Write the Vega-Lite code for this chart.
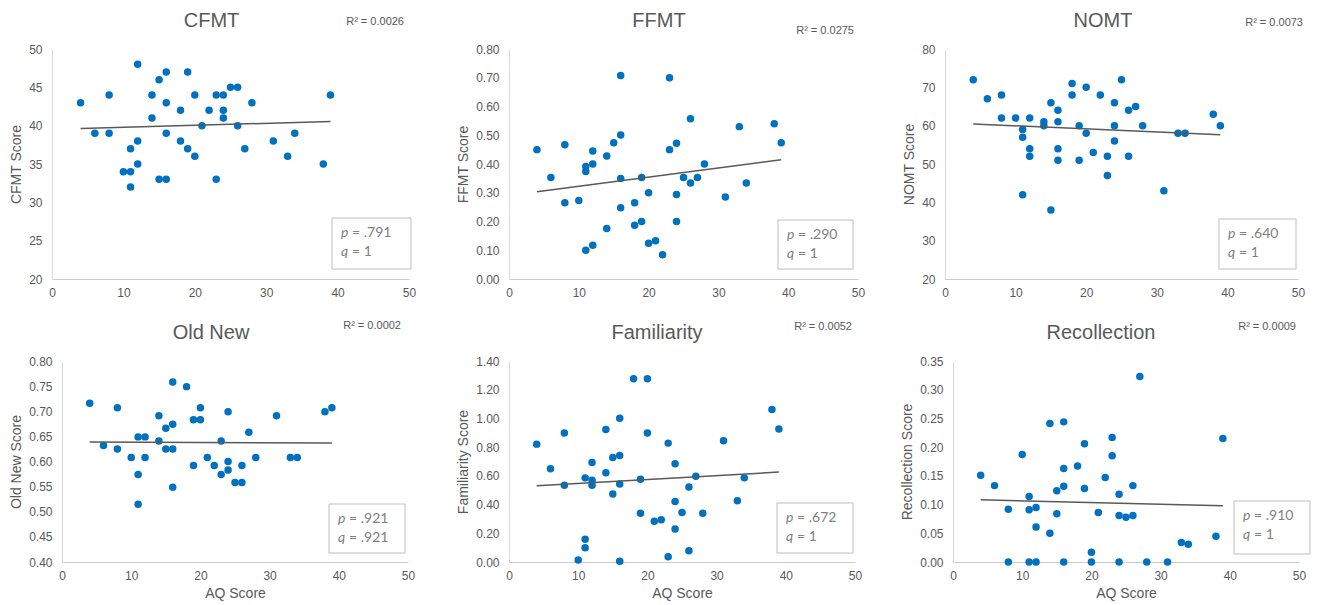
{
"$schema": "https://vega.github.io/schema/vega-lite/v6.json",
"padding": {"left": 9, "top": 11, "right": 5, "bottom": 3},
"background": "white",
"config": {
  "view": {"stroke": null},
  "font": "Liberation Sans",
  "axis": {"grid": false, "ticks": false, "tickSize": 0, "labelFont": "Liberation Sans", "labelFontSize": 12, "labelColor": "#595959", "titleFont": "Liberation Sans", "titleFontSize": 14, "titleColor": "#595959", "titleFontWeight": "normal", "domainColor": "#d9d9d9", "labelFlush": false, "labelOverlap": false},
  "axisY": {"titlePadding": 5, "labelPadding": 10},
  "axisX": {"titlePadding": 5, "labelPadding": 8, "domainColor": "#cccccc"}
},
"datasets": {
  "stats": [
    {"test": "CFMT", "r2": "R² = 0.0026", "pl": "p", "pv": "= .791", "ql": "q", "qv": "= 1"},
    {"test": "FFMT", "r2": "R² = 0.0275", "pl": "p", "pv": "= .290", "ql": "q", "qv": "= 1"},
    {"test": "NOMT", "r2": "R² = 0.0073", "pl": "p", "pv": "= .640", "ql": "q", "qv": "= 1"},
    {"test": "Old New", "r2": "R² = 0.0002", "pl": "p", "pv": "= .921", "ql": "q", "qv": "= .921"},
    {"test": "Familiarity", "r2": "R² = 0.0052", "pl": "p", "pv": "= .672", "ql": "q", "qv": "= 1"},
    {"test": "Recollection", "r2": "R² = 0.0009", "pl": "p", "pv": "= .910", "ql": "q", "qv": "= 1"}
  ],
  "CFMT": [
    {"aq":4,"score":43},{"aq":6,"score":39},{"aq":8,"score":44},{"aq":8,"score":39},{"aq":10,"score":34},{"aq":11,"score":34},{"aq":11,"score":37},{"aq":11,"score":32},{"aq":12,"score":48},{"aq":12,"score":38},{"aq":12,"score":35},{"aq":14,"score":44},{"aq":14,"score":41},{"aq":15,"score":46},{"aq":15,"score":33},{"aq":16,"score":47},{"aq":16,"score":43},{"aq":16,"score":39},{"aq":16,"score":33},{"aq":18,"score":42},{"aq":18,"score":38},{"aq":19,"score":47},{"aq":19,"score":37},{"aq":20,"score":44},{"aq":20,"score":36},{"aq":21,"score":40},{"aq":22,"score":42},{"aq":23,"score":44},{"aq":23,"score":33},{"aq":24,"score":44},{"aq":24,"score":42},{"aq":24,"score":41},{"aq":25,"score":45},{"aq":26,"score":45},{"aq":26,"score":40},{"aq":27,"score":37},{"aq":28,"score":43},{"aq":31,"score":38},{"aq":33,"score":36},{"aq":34,"score":39},{"aq":38,"score":35},{"aq":39,"score":44}
  ],
  "FFMT": [
    {"aq":4,"score":0.45},{"aq":6,"score":0.353},{"aq":8,"score":0.467},{"aq":8,"score":0.265},{"aq":10,"score":0.273},{"aq":11,"score":0.391},{"aq":11,"score":0.374},{"aq":11,"score":0.10},{"aq":12,"score":0.445},{"aq":12,"score":0.40},{"aq":12,"score":0.117},{"aq":14,"score":0.428},{"aq":14,"score":0.176},{"aq":15,"score":0.474},{"aq":16,"score":0.708},{"aq":16,"score":0.501},{"aq":16,"score":0.35},{"aq":16,"score":0.248},{"aq":18,"score":0.265},{"aq":18,"score":0.187},{"aq":19,"score":0.353},{"aq":19,"score":0.20},{"aq":20,"score":0.30},{"aq":20,"score":0.124},{"aq":21,"score":0.133},{"aq":22,"score":0.084},{"aq":23,"score":0.70},{"aq":23,"score":0.45},{"aq":24,"score":0.472},{"aq":24,"score":0.294},{"aq":24,"score":0.20},{"aq":25,"score":0.353},{"aq":26,"score":0.557},{"aq":26,"score":0.334},{"aq":27,"score":0.353},{"aq":28,"score":0.40},{"aq":31,"score":0.285},{"aq":33,"score":0.53},{"aq":34,"score":0.334},{"aq":38,"score":0.54},{"aq":39,"score":0.474}
  ],
  "NOMT": [
    {"aq":4,"score":72},{"aq":6,"score":67},{"aq":8,"score":68},{"aq":8,"score":62},{"aq":10,"score":62},{"aq":11,"score":59},{"aq":11,"score":57},{"aq":11,"score":42},{"aq":12,"score":62},{"aq":12,"score":54},{"aq":12,"score":52},{"aq":14,"score":61},{"aq":14,"score":60},{"aq":15,"score":66},{"aq":15,"score":38},{"aq":16,"score":64},{"aq":16,"score":61},{"aq":16,"score":54},{"aq":16,"score":51},{"aq":18,"score":71},{"aq":18,"score":68},{"aq":19,"score":60},{"aq":19,"score":51},{"aq":20,"score":70},{"aq":20,"score":58},{"aq":21,"score":53},{"aq":22,"score":68},{"aq":23,"score":52},{"aq":23,"score":47},{"aq":24,"score":66},{"aq":24,"score":60},{"aq":24,"score":56},{"aq":25,"score":72},{"aq":26,"score":64},{"aq":26,"score":52},{"aq":27,"score":65},{"aq":28,"score":60},{"aq":31,"score":43},{"aq":33,"score":58},{"aq":34,"score":58},{"aq":38,"score":63},{"aq":39,"score":60}
  ],
  "OldNew": [
    {"aq":4,"score":0.716},{"aq":6,"score":0.632},{"aq":8,"score":0.707},{"aq":8,"score":0.625},{"aq":10,"score":0.608},{"aq":11,"score":0.649},{"aq":11,"score":0.574},{"aq":11,"score":0.515},{"aq":12,"score":0.649},{"aq":12,"score":0.608},{"aq":14,"score":0.691},{"aq":14,"score":0.641},{"aq":15,"score":0.666},{"aq":15,"score":0.625},{"aq":16,"score":0.758},{"aq":16,"score":0.674},{"aq":16,"score":0.625},{"aq":16,"score":0.549},{"aq":18,"score":0.749},{"aq":19,"score":0.683},{"aq":19,"score":0.592},{"aq":20,"score":0.707},{"aq":20,"score":0.683},{"aq":21,"score":0.608},{"aq":22,"score":0.592},{"aq":23,"score":0.641},{"aq":23,"score":0.574},{"aq":24,"score":0.699},{"aq":24,"score":0.60},{"aq":24,"score":0.583},{"aq":25,"score":0.558},{"aq":26,"score":0.592},{"aq":26,"score":0.558},{"aq":27,"score":0.658},{"aq":28,"score":0.608},{"aq":31,"score":0.691},{"aq":33,"score":0.608},{"aq":34,"score":0.608},{"aq":38,"score":0.699},{"aq":39,"score":0.707}
  ],
  "Familiarity": [
    {"aq":4,"score":0.821},{"aq":6,"score":0.649},{"aq":8,"score":0.898},{"aq":8,"score":0.535},{"aq":10,"score":0.014},{"aq":11,"score":0.586},{"aq":11,"score":0.158},{"aq":11,"score":0.10},{"aq":12,"score":0.693},{"aq":12,"score":0.570},{"aq":12,"score":0.535},{"aq":14,"score":0.923},{"aq":14,"score":0.621},{"aq":15,"score":0.728},{"aq":15,"score":0.474},{"aq":16,"score":1.002},{"aq":16,"score":0.742},{"aq":16,"score":0.544},{"aq":16,"score":0.005},{"aq":18,"score":1.277},{"aq":19,"score":0.577},{"aq":19,"score":0.340},{"aq":20,"score":1.277},{"aq":20,"score":0.898},{"aq":21,"score":0.284},{"aq":22,"score":0.295},{"aq":23,"score":0.828},{"aq":23,"score":0.037},{"aq":24,"score":0.684},{"aq":24,"score":0.421},{"aq":24,"score":0.230},{"aq":25,"score":0.344},{"aq":26,"score":0.523},{"aq":26,"score":0.079},{"aq":27,"score":0.598},{"aq":28,"score":0.340},{"aq":31,"score":0.844},{"aq":33,"score":0.426},{"aq":34,"score":0.586},{"aq":38,"score":1.063},{"aq":39,"score":0.926}
  ],
  "Recollection": [
    {"aq":4,"score":0.151},{"aq":6,"score":0.133},{"aq":8,"score":0.092},{"aq":8,"score":0},{"aq":10,"score":0.187},{"aq":11,"score":0.114},{"aq":11,"score":0.091},{"aq":11,"score":0},{"aq":12,"score":0.095},{"aq":12,"score":0.061},{"aq":12,"score":0},{"aq":14,"score":0.241},{"aq":14,"score":0.050},{"aq":15,"score":0.124},{"aq":15,"score":0.084},{"aq":16,"score":0.244},{"aq":16,"score":0.163},{"aq":16,"score":0.132},{"aq":16,"score":0},{"aq":18,"score":0.167},{"aq":19,"score":0.206},{"aq":19,"score":0.128},{"aq":20,"score":0.017},{"aq":20,"score":0},{"aq":21,"score":0.086},{"aq":22,"score":0.147},{"aq":23,"score":0.217},{"aq":23,"score":0.185},{"aq":24,"score":0.118},{"aq":24,"score":0.081},{"aq":24,"score":0},{"aq":25,"score":0.078},{"aq":26,"score":0.133},{"aq":26,"score":0.081},{"aq":27,"score":0.323},{"aq":28,"score":0},{"aq":31,"score":0},{"aq":33,"score":0.034},{"aq":34,"score":0.031},{"aq":38,"score":0.045},{"aq":39,"score":0.215}
  ]
},
"concat": [
 {"hconcat": [
  {"width": 357, "height": 230, "layer": [
    {"data": {"name": "CFMT"}, "mark": {"type": "circle", "size": 56, "color": "#0070c0", "opacity": 1},
     "encoding": {"x": {"field": "aq", "type": "quantitative", "scale": {"domain": [0, 50], "nice": false}, "axis": {"values": [0,10,20,30,40,50], "tickCount": 6, "labelOverlap": false, "title": null}},
                  "y": {"field": "score", "type": "quantitative", "scale": {"domain": [20, 50], "nice": false, "zero": false}, "axis": {"values": [20,25,30,35,40,45,50], "tickCount": 7, "labelOverlap": false, "format": "d", "title": "CFMT Score"}}}},
    {"data": {"name": "CFMT"}, "transform": [{"regression": "score", "on": "aq"}], "mark": {"type": "line", "color": "#595959", "strokeWidth": 1.5},
     "encoding": {"x": {"field": "aq", "type": "quantitative", "axis": {"values": [0,10,20,30,40,50], "tickCount": 6, "labelOverlap": false, "title": null}}, "y": {"field": "score", "type": "quantitative", "axis": {"values": [20,25,30,35,40,45,50], "tickCount": 7, "labelOverlap": false, "format": "d", "title": "CFMT Score"}}}},
    {"data": {"name": "stats"}, "transform": [{"filter": "datum.test === 'CFMT'"}], "layer": [
      {"mark": {"type": "text", "fontSize": 20, "color": "#595959", "align": "center", "baseline": "alphabetic", "dx": -19, "dy": -22}, "encoding": {"x": {"datum": 25}, "y": {"datum": 50}, "text": {"field": "test"}}},
      {"mark": {"type": "text", "fontSize": 11, "color": "#595959", "align": "right", "baseline": "middle", "dx": -5, "dy": -27.5}, "encoding": {"x": {"datum": 50}, "y": {"datum": 50}, "text": {"field": "r2"}}},
      {"mark": {"type": "rect", "fill": "white", "stroke": "#bfbfbf", "strokeWidth": 1, "xOffset": -77, "x2Offset": 2, "yOffset": -61, "y2Offset": -10}, "encoding": {"x": {"datum": 50}, "x2": {"datum": 50}, "y": {"datum": 20}, "y2": {"datum": 20}}},
      {"mark": {"type": "text", "font": "Lato", "fontSize": 14, "fontStyle": "italic", "color": "#7f7f7f", "align": "left", "baseline": "middle", "dx": -68, "dy": -46}, "encoding": {"x": {"datum": 50}, "y": {"datum": 20}, "text": {"field": "pl"}}},
      {"mark": {"type": "text", "font": "Lato", "fontSize": 14, "color": "#7f7f7f", "align": "left", "baseline": "middle", "dx": -57, "dy": -46}, "encoding": {"x": {"datum": 50}, "y": {"datum": 20}, "text": {"field": "pv"}}},
      {"mark": {"type": "text", "font": "Lato", "fontSize": 14, "fontStyle": "italic", "color": "#7f7f7f", "align": "left", "baseline": "middle", "dx": -68, "dy": -27}, "encoding": {"x": {"datum": 50}, "y": {"datum": 20}, "text": {"field": "ql"}}},
      {"mark": {"type": "text", "font": "Lato", "fontSize": 14, "color": "#7f7f7f", "align": "left", "baseline": "middle", "dx": -57, "dy": -27}, "encoding": {"x": {"datum": 50}, "y": {"datum": 20}, "text": {"field": "qv"}}}
    ]}
  ]},
  {"hconcat": [
   {"width": 349, "height": 230, "layer": [
    {"data": {"name": "FFMT"}, "mark": {"type": "circle", "size": 56, "color": "#0070c0", "opacity": 1},
     "encoding": {"x": {"field": "aq", "type": "quantitative", "scale": {"domain": [0, 50], "nice": false}, "axis": {"values": [0,10,20,30,40,50], "tickCount": 6, "labelOverlap": false, "title": null}},
                  "y": {"field": "score", "type": "quantitative", "scale": {"domain": [0, 0.8], "nice": false, "zero": false}, "axis": {"values": [0,0.1,0.2,0.3,0.4,0.5,0.6,0.7,0.8], "tickCount": 9, "labelOverlap": false, "format": ".2f", "title": "FFMT Score"}}}},
    {"data": {"name": "FFMT"}, "transform": [{"regression": "score", "on": "aq"}], "mark": {"type": "line", "color": "#595959", "strokeWidth": 1.5},
     "encoding": {"x": {"field": "aq", "type": "quantitative", "axis": {"values": [0,10,20,30,40,50], "tickCount": 6, "labelOverlap": false, "title": null}}, "y": {"field": "score", "type": "quantitative", "axis": {"values": [0,0.1,0.2,0.3,0.4,0.5,0.6,0.7,0.8], "tickCount": 9, "labelOverlap": false, "format": ".2f", "title": "FFMT Score"}}}},
    {"data": {"name": "stats"}, "transform": [{"filter": "datum.test === 'FFMT'"}], "layer": [
      {"mark": {"type": "text", "fontSize": 20, "color": "#595959", "align": "center", "baseline": "alphabetic", "dx": -24.5, "dy": -22}, "encoding": {"x": {"datum": 25}, "y": {"datum": 0.8}, "text": {"field": "test"}}},
      {"mark": {"type": "text", "fontSize": 11, "color": "#595959", "align": "right", "baseline": "middle", "dx": -4, "dy": -18}, "encoding": {"x": {"datum": 50}, "y": {"datum": 0.8}, "text": {"field": "r2"}}},
      {"mark": {"type": "rect", "fill": "white", "stroke": "#bfbfbf", "strokeWidth": 1, "xOffset": -80, "x2Offset": -5, "yOffset": -59, "y2Offset": -10}, "encoding": {"x": {"datum": 50}, "x2": {"datum": 50}, "y": {"datum": 0}, "y2": {"datum": 0}}},
      {"mark": {"type": "text", "font": "Lato", "fontSize": 14, "fontStyle": "italic", "color": "#7f7f7f", "align": "left", "baseline": "middle", "dx": -71, "dy": -44}, "encoding": {"x": {"datum": 50}, "y": {"datum": 0}, "text": {"field": "pl"}}},
      {"mark": {"type": "text", "font": "Lato", "fontSize": 14, "color": "#7f7f7f", "align": "left", "baseline": "middle", "dx": -60, "dy": -44}, "encoding": {"x": {"datum": 50}, "y": {"datum": 0}, "text": {"field": "pv"}}},
      {"mark": {"type": "text", "font": "Lato", "fontSize": 14, "fontStyle": "italic", "color": "#7f7f7f", "align": "left", "baseline": "middle", "dx": -71, "dy": -25}, "encoding": {"x": {"datum": 50}, "y": {"datum": 0}, "text": {"field": "ql"}}},
      {"mark": {"type": "text", "font": "Lato", "fontSize": 14, "color": "#7f7f7f", "align": "left", "baseline": "middle", "dx": -60, "dy": -25}, "encoding": {"x": {"datum": 50}, "y": {"datum": 0}, "text": {"field": "qv"}}}
    ]}
   ]},
   {"width": 353, "height": 230, "layer": [
    {"data": {"name": "NOMT"}, "mark": {"type": "circle", "size": 56, "color": "#0070c0", "opacity": 1},
     "encoding": {"x": {"field": "aq", "type": "quantitative", "scale": {"domain": [0, 50], "nice": false}, "axis": {"values": [0,10,20,30,40,50], "tickCount": 6, "labelOverlap": false, "title": null}},
                  "y": {"field": "score", "type": "quantitative", "scale": {"domain": [20, 80], "nice": false, "zero": false}, "axis": {"values": [20,30,40,50,60,70,80], "tickCount": 7, "labelOverlap": false, "format": "d", "title": "NOMT Score"}}}},
    {"data": {"name": "NOMT"}, "transform": [{"regression": "score", "on": "aq"}], "mark": {"type": "line", "color": "#595959", "strokeWidth": 1.5},
     "encoding": {"x": {"field": "aq", "type": "quantitative", "axis": {"values": [0,10,20,30,40,50], "tickCount": 6, "labelOverlap": false, "title": null}}, "y": {"field": "score", "type": "quantitative", "axis": {"values": [20,30,40,50,60,70,80], "tickCount": 7, "labelOverlap": false, "format": "d", "title": "NOMT Score"}}}},
    {"data": {"name": "stats"}, "transform": [{"filter": "datum.test === 'NOMT'"}], "layer": [
      {"mark": {"type": "text", "fontSize": 20, "color": "#595959", "align": "center", "baseline": "alphabetic", "dx": -18.5, "dy": -22}, "encoding": {"x": {"datum": 25}, "y": {"datum": 80}, "text": {"field": "test"}}},
      {"mark": {"type": "text", "fontSize": 11, "color": "#595959", "align": "right", "baseline": "middle", "dx": 5, "dy": -26.4}, "encoding": {"x": {"datum": 50}, "y": {"datum": 80}, "text": {"field": "r2"}}},
      {"mark": {"type": "rect", "fill": "white", "stroke": "#bfbfbf", "strokeWidth": 1, "xOffset": -79, "x2Offset": -2, "yOffset": -60, "y2Offset": -10}, "encoding": {"x": {"datum": 50}, "x2": {"datum": 50}, "y": {"datum": 20}, "y2": {"datum": 20}}},
      {"mark": {"type": "text", "font": "Lato", "fontSize": 14, "fontStyle": "italic", "color": "#7f7f7f", "align": "left", "baseline": "middle", "dx": -70, "dy": -45}, "encoding": {"x": {"datum": 50}, "y": {"datum": 20}, "text": {"field": "pl"}}},
      {"mark": {"type": "text", "font": "Lato", "fontSize": 14, "color": "#7f7f7f", "align": "left", "baseline": "middle", "dx": -59, "dy": -45}, "encoding": {"x": {"datum": 50}, "y": {"datum": 20}, "text": {"field": "pv"}}},
      {"mark": {"type": "text", "font": "Lato", "fontSize": 14, "fontStyle": "italic", "color": "#7f7f7f", "align": "left", "baseline": "middle", "dx": -70, "dy": -26}, "encoding": {"x": {"datum": 50}, "y": {"datum": 20}, "text": {"field": "ql"}}},
      {"mark": {"type": "text", "font": "Lato", "fontSize": 14, "color": "#7f7f7f", "align": "left", "baseline": "middle", "dx": -59, "dy": -26}, "encoding": {"x": {"datum": 50}, "y": {"datum": 20}, "text": {"field": "qv"}}}
    ]}
   ]}
  ], "spacing": 37}
 ], "spacing": 40},
 {"hconcat": [
  {"width": 356, "height": 201, "layer": [
    {"data": {"name": "OldNew"}, "mark": {"type": "circle", "size": 56, "color": "#0070c0", "opacity": 1},
     "encoding": {"x": {"field": "aq", "type": "quantitative", "scale": {"domain": [0, 50], "nice": false, "range": [10, 356]}, "axis": {"values": [0,10,20,30,40,50], "tickCount": 6, "labelOverlap": false, "title": "AQ Score"}},
                  "y": {"field": "score", "type": "quantitative", "scale": {"domain": [0.4, 0.8], "nice": false, "zero": false}, "axis": {"values": [0.4,0.45,0.5,0.55,0.6,0.65,0.7,0.75,0.8], "tickCount": 9, "labelOverlap": false, "format": ".2f", "offset": -10, "title": "Old New Score"}}}},
    {"data": {"name": "OldNew"}, "transform": [{"regression": "score", "on": "aq"}], "mark": {"type": "line", "color": "#595959", "strokeWidth": 1.5},
     "encoding": {"x": {"field": "aq", "type": "quantitative", "axis": {"values": [0,10,20,30,40,50], "tickCount": 6, "labelOverlap": false, "title": "AQ Score"}}, "y": {"field": "score", "type": "quantitative", "axis": {"values": [0.4,0.45,0.5,0.55,0.6,0.65,0.7,0.75,0.8], "tickCount": 9, "labelOverlap": false, "format": ".2f", "offset": -10, "title": "Old New Score"}}}},
    {"data": {"name": "stats"}, "transform": [{"filter": "datum.test === 'Old New'"}], "layer": [
      {"mark": {"type": "text", "fontSize": 20, "color": "#595959", "align": "center", "baseline": "alphabetic", "dx": -24, "dy": -22}, "encoding": {"x": {"datum": 25}, "y": {"datum": 0.8}, "text": {"field": "test"}}},
      {"mark": {"type": "text", "fontSize": 11, "color": "#595959", "align": "right", "baseline": "middle", "dx": -7, "dy": -35}, "encoding": {"x": {"datum": 50}, "y": {"datum": 0.8}, "text": {"field": "r2"}}},
      {"mark": {"type": "rect", "fill": "white", "stroke": "#bfbfbf", "strokeWidth": 1, "xOffset": -79, "x2Offset": -3, "yOffset": -58, "y2Offset": -9}, "encoding": {"x": {"datum": 50}, "x2": {"datum": 50}, "y": {"datum": 0.4}, "y2": {"datum": 0.4}}},
      {"mark": {"type": "text", "font": "Lato", "fontSize": 14, "fontStyle": "italic", "color": "#7f7f7f", "align": "left", "baseline": "middle", "dx": -70, "dy": -43}, "encoding": {"x": {"datum": 50}, "y": {"datum": 0.4}, "text": {"field": "pl"}}},
      {"mark": {"type": "text", "font": "Lato", "fontSize": 14, "color": "#7f7f7f", "align": "left", "baseline": "middle", "dx": -59, "dy": -43}, "encoding": {"x": {"datum": 50}, "y": {"datum": 0.4}, "text": {"field": "pv"}}},
      {"mark": {"type": "text", "font": "Lato", "fontSize": 14, "fontStyle": "italic", "color": "#7f7f7f", "align": "left", "baseline": "middle", "dx": -70, "dy": -24}, "encoding": {"x": {"datum": 50}, "y": {"datum": 0.4}, "text": {"field": "ql"}}},
      {"mark": {"type": "text", "font": "Lato", "fontSize": 14, "color": "#7f7f7f", "align": "left", "baseline": "middle", "dx": -59, "dy": -24}, "encoding": {"x": {"datum": 50}, "y": {"datum": 0.4}, "text": {"field": "qv"}}}
    ]}
  ]},
  {"hconcat": [
   {"width": 346, "height": 201, "layer": [
    {"data": {"name": "Familiarity"}, "mark": {"type": "circle", "size": 56, "color": "#0070c0", "opacity": 1},
     "encoding": {"x": {"field": "aq", "type": "quantitative", "scale": {"domain": [0, 50], "nice": false}, "axis": {"values": [0,10,20,30,40,50], "tickCount": 6, "labelOverlap": false, "title": "AQ Score"}},
                  "y": {"field": "score", "type": "quantitative", "scale": {"domain": [0, 1.4], "nice": false, "zero": false}, "axis": {"values": [0,0.2,0.4,0.6,0.8,1.0,1.2,1.4], "tickCount": 8, "labelOverlap": false, "format": ".2f", "title": "Familiarity Score"}}}},
    {"data": {"name": "Familiarity"}, "transform": [{"regression": "score", "on": "aq"}], "mark": {"type": "line", "color": "#595959", "strokeWidth": 1.5},
     "encoding": {"x": {"field": "aq", "type": "quantitative", "axis": {"values": [0,10,20,30,40,50], "tickCount": 6, "labelOverlap": false, "title": "AQ Score"}}, "y": {"field": "score", "type": "quantitative", "axis": {"values": [0,0.2,0.4,0.6,0.8,1.0,1.2,1.4], "tickCount": 8, "labelOverlap": false, "format": ".2f", "title": "Familiarity Score"}}}},
    {"data": {"name": "stats"}, "transform": [{"filter": "datum.test === 'Familiarity'"}], "layer": [
      {"mark": {"type": "text", "fontSize": 20, "color": "#595959", "align": "center", "baseline": "alphabetic", "dx": -25, "dy": -22}, "encoding": {"x": {"datum": 25}, "y": {"datum": 1.4}, "text": {"field": "test"}}},
      {"mark": {"type": "text", "fontSize": 11, "color": "#595959", "align": "right", "baseline": "middle", "dx": -3, "dy": -34}, "encoding": {"x": {"datum": 50}, "y": {"datum": 1.4}, "text": {"field": "r2"}}},
      {"mark": {"type": "rect", "fill": "white", "stroke": "#bfbfbf", "strokeWidth": 1, "xOffset": -78, "x2Offset": -2, "yOffset": -59, "y2Offset": -9}, "encoding": {"x": {"datum": 50}, "x2": {"datum": 50}, "y": {"datum": 0}, "y2": {"datum": 0}}},
      {"mark": {"type": "text", "font": "Lato", "fontSize": 14, "fontStyle": "italic", "color": "#7f7f7f", "align": "left", "baseline": "middle", "dx": -69, "dy": -44}, "encoding": {"x": {"datum": 50}, "y": {"datum": 0}, "text": {"field": "pl"}}},
      {"mark": {"type": "text", "font": "Lato", "fontSize": 14, "color": "#7f7f7f", "align": "left", "baseline": "middle", "dx": -58, "dy": -44}, "encoding": {"x": {"datum": 50}, "y": {"datum": 0}, "text": {"field": "pv"}}},
      {"mark": {"type": "text", "font": "Lato", "fontSize": 14, "fontStyle": "italic", "color": "#7f7f7f", "align": "left", "baseline": "middle", "dx": -69, "dy": -25}, "encoding": {"x": {"datum": 50}, "y": {"datum": 0}, "text": {"field": "ql"}}},
      {"mark": {"type": "text", "font": "Lato", "fontSize": 14, "color": "#7f7f7f", "align": "left", "baseline": "middle", "dx": -58, "dy": -25}, "encoding": {"x": {"datum": 50}, "y": {"datum": 0}, "text": {"field": "qv"}}}
    ]}
   ]},
   {"width": 346, "height": 201, "layer": [
    {"data": {"name": "Recollection"}, "mark": {"type": "circle", "size": 56, "color": "#0070c0", "opacity": 1},
     "encoding": {"x": {"field": "aq", "type": "quantitative", "scale": {"domain": [0, 50], "nice": false}, "axis": {"values": [0,10,20,30,40,50], "tickCount": 6, "labelOverlap": false, "title": "AQ Score"}},
                  "y": {"field": "score", "type": "quantitative", "scale": {"domain": [0, 0.35], "nice": false, "zero": false}, "axis": {"values": [0,0.05,0.1,0.15,0.2,0.25,0.3,0.35], "tickCount": 8, "labelOverlap": false, "format": ".2f", "title": "Recollection Score"}}}},
    {"data": {"name": "Recollection"}, "transform": [{"regression": "score", "on": "aq"}], "mark": {"type": "line", "color": "#595959", "strokeWidth": 1.5},
     "encoding": {"x": {"field": "aq", "type": "quantitative", "axis": {"values": [0,10,20,30,40,50], "tickCount": 6, "labelOverlap": false, "title": "AQ Score"}}, "y": {"field": "score", "type": "quantitative", "axis": {"values": [0,0.05,0.1,0.15,0.2,0.25,0.3,0.35], "tickCount": 8, "labelOverlap": false, "format": ".2f", "title": "Recollection Score"}}}},
    {"data": {"name": "stats"}, "transform": [{"filter": "datum.test === 'Recollection'"}], "layer": [
      {"mark": {"type": "text", "fontSize": 20, "color": "#595959", "align": "center", "baseline": "alphabetic", "dx": -25, "dy": -22}, "encoding": {"x": {"datum": 25}, "y": {"datum": 0.35}, "text": {"field": "test"}}},
      {"mark": {"type": "text", "fontSize": 11, "color": "#595959", "align": "right", "baseline": "middle", "dx": -3, "dy": -34}, "encoding": {"x": {"datum": 50}, "y": {"datum": 0.35}, "text": {"field": "r2"}}},
      {"mark": {"type": "rect", "fill": "white", "stroke": "#bfbfbf", "strokeWidth": 1, "xOffset": -65, "x2Offset": 11, "yOffset": -61, "y2Offset": -8}, "encoding": {"x": {"datum": 50}, "x2": {"datum": 50}, "y": {"datum": 0}, "y2": {"datum": 0}}},
      {"mark": {"type": "text", "font": "Lato", "fontSize": 14, "fontStyle": "italic", "color": "#7f7f7f", "align": "left", "baseline": "middle", "dx": -56, "dy": -46}, "encoding": {"x": {"datum": 50}, "y": {"datum": 0}, "text": {"field": "pl"}}},
      {"mark": {"type": "text", "font": "Lato", "fontSize": 14, "color": "#7f7f7f", "align": "left", "baseline": "middle", "dx": -45, "dy": -46}, "encoding": {"x": {"datum": 50}, "y": {"datum": 0}, "text": {"field": "pv"}}},
      {"mark": {"type": "text", "font": "Lato", "fontSize": 14, "fontStyle": "italic", "color": "#7f7f7f", "align": "left", "baseline": "middle", "dx": -56, "dy": -27}, "encoding": {"x": {"datum": 50}, "y": {"datum": 0}, "text": {"field": "ql"}}},
      {"mark": {"type": "text", "font": "Lato", "fontSize": 14, "color": "#7f7f7f", "align": "left", "baseline": "middle", "dx": -45, "dy": -27}, "encoding": {"x": {"datum": 50}, "y": {"datum": 0}, "text": {"field": "qv"}}}
    ]}
   ]}
  ], "spacing": 38}
 ], "spacing": 41}
],
"columns": 1,
"align": "none",
"spacing": 22
}
